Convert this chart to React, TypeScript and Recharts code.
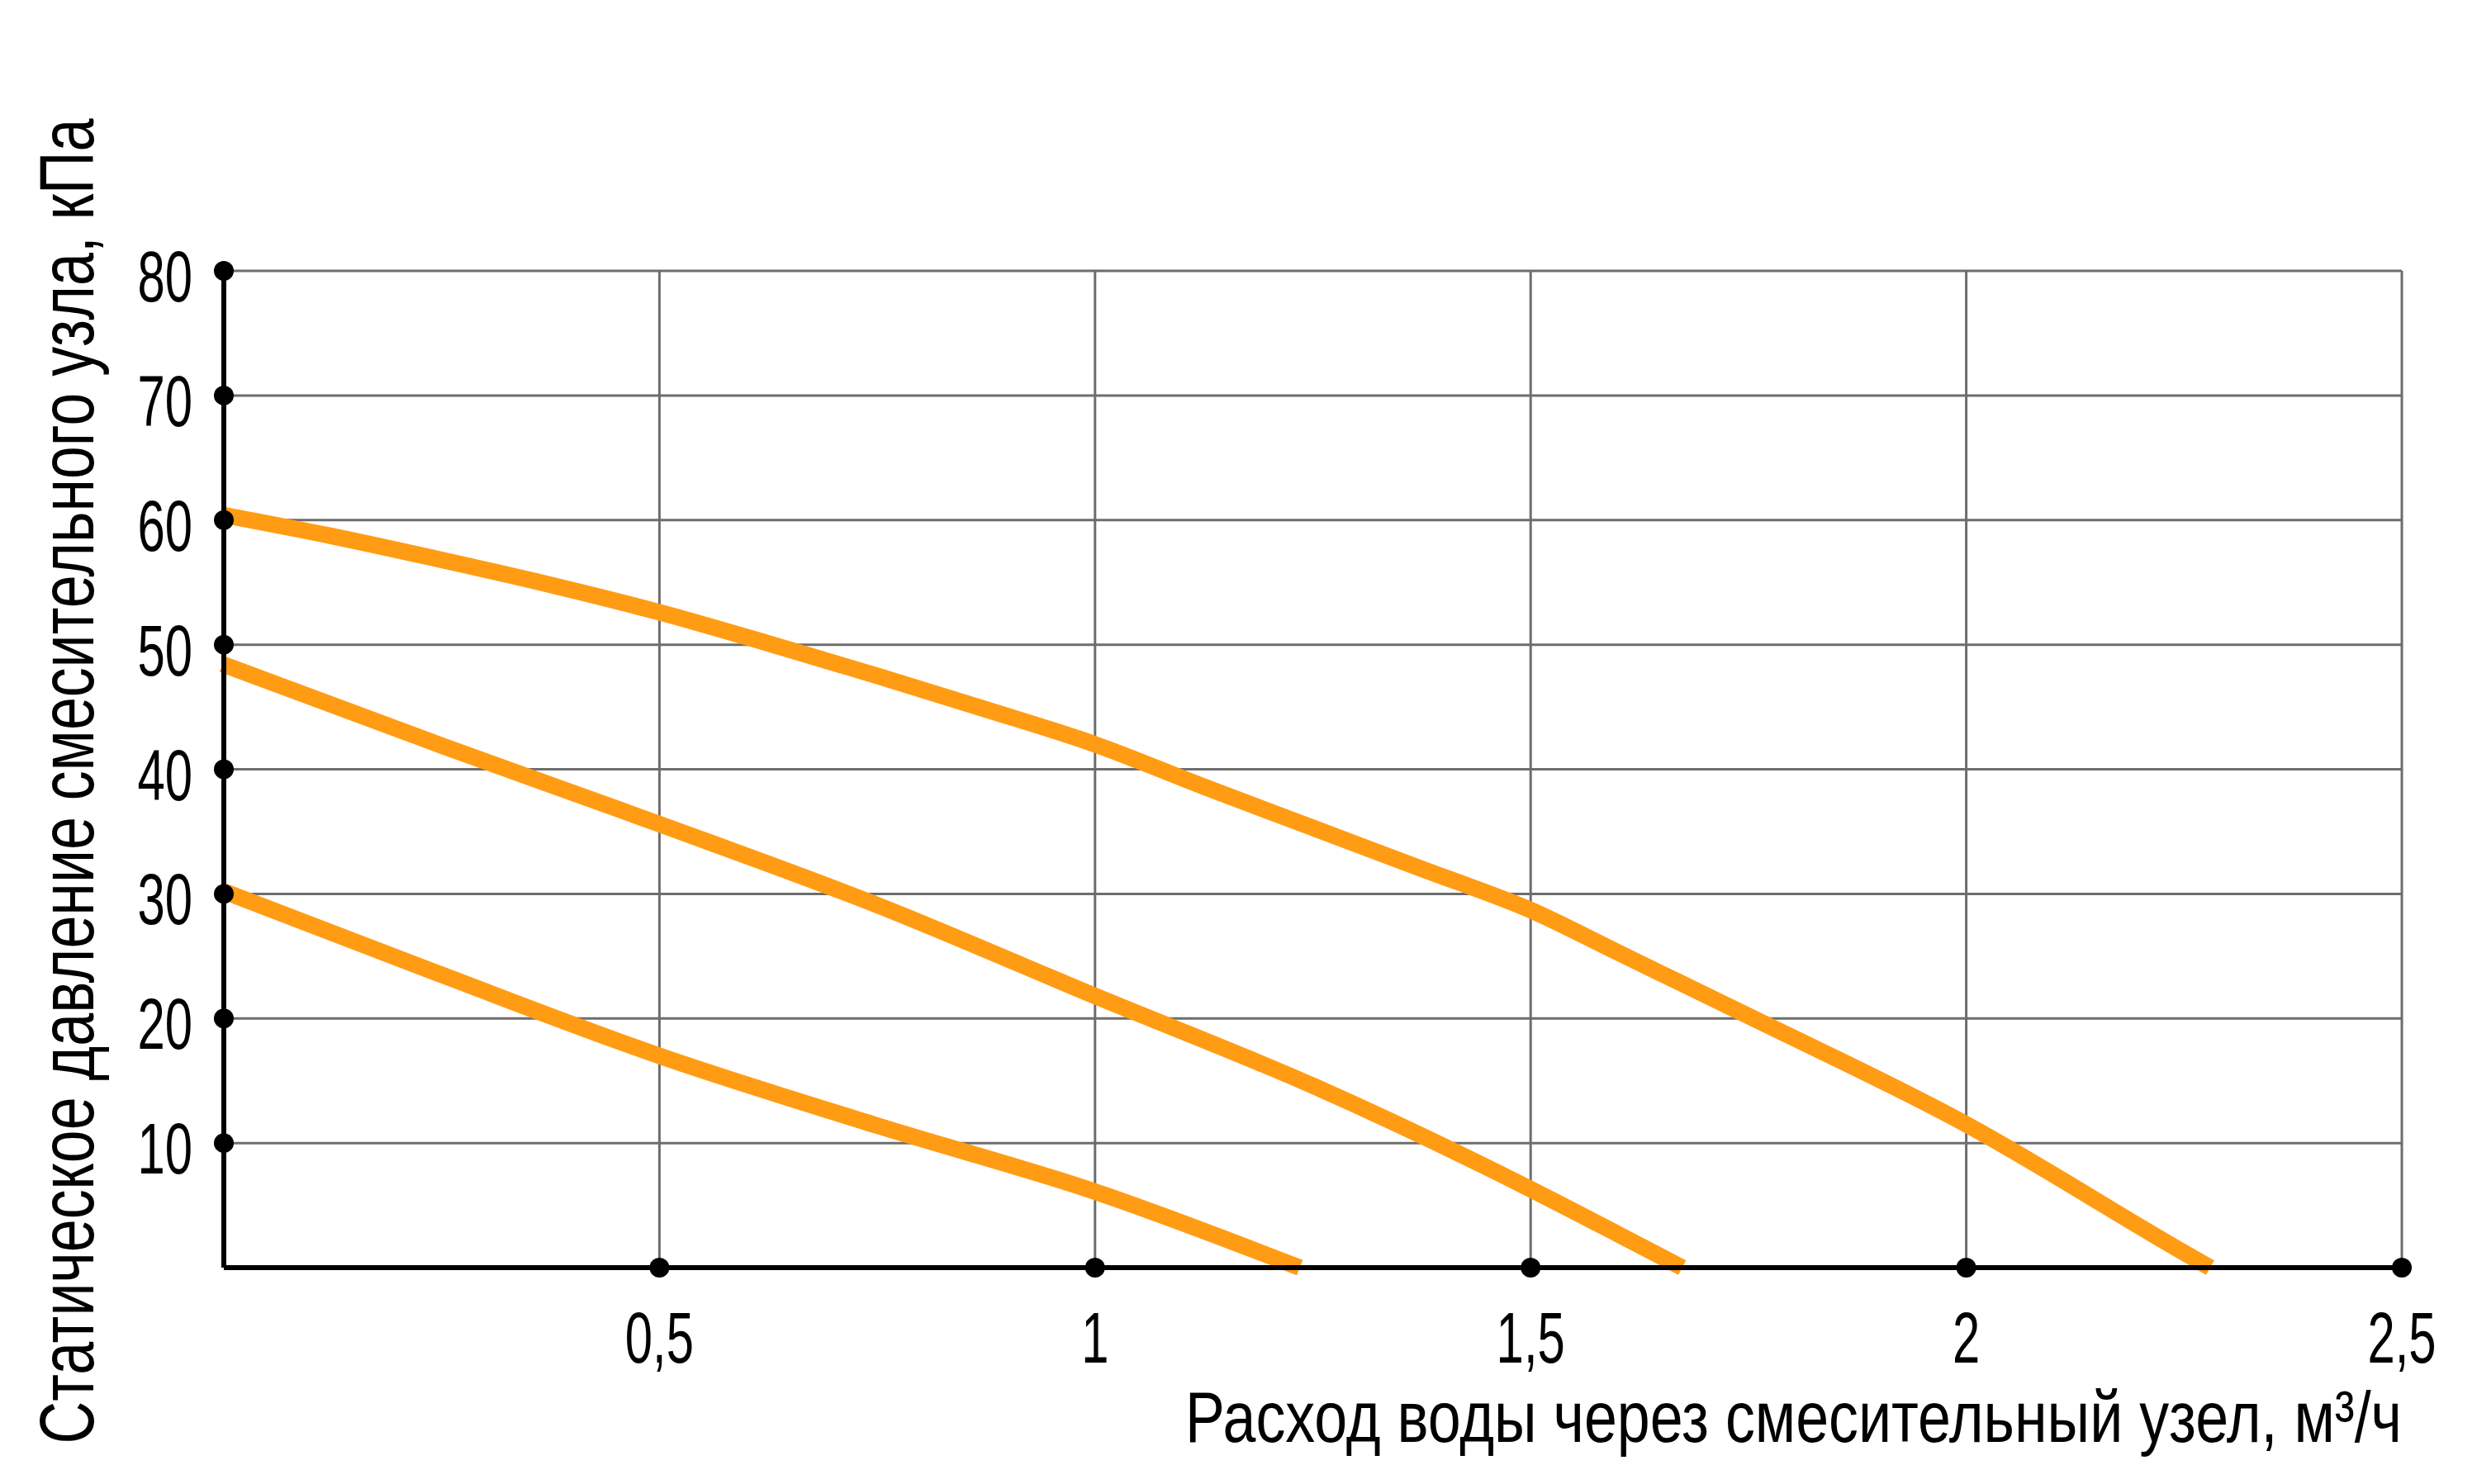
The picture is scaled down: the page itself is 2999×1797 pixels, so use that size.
import React from "react";
import { LineChart, Line, XAxis, YAxis, CartesianGrid } from "recharts";

// Кривые: расход Q (м³/ч) -> статическое давление P (кПа)
const highQ = [0, 0.125, 0.25, 0.375, 0.5, 0.625, 0.75, 0.875, 1, 1.125, 1.25, 1.375, 1.5, 1.6, 1.75, 2, 2.25, 2.28];
const highP = [60.4, 58.7, 56.8, 54.8, 52.6, 50.1, 47.5, 44.8, 42.0, 38.6, 35.3, 32.0, 28.7, 25.3, 20.2, 11.5, 1.2, 0];

const midQ = [0, 0.25, 0.5, 0.75, 1, 1.25, 1.5, 1.6, 1.674];
const midP = [48.4, 41.9, 35.6, 29.1, 21.8, 14.6, 6.3, 2.7, 0];

const lowQ = [0, 0.25, 0.5, 0.75, 1, 1.235];
const lowP = [30.2, 23.5, 17.0, 11.4, 6.1, 0];

const xTicks = [0.5, 1, 1.5, 2, 2.5];
const yTicks = [10, 20, 30, 40, 50, 60, 70, 80];

const xTitle = "Расход воды через смесительный узел, м³/ч";
const yTitle = "Статическое давление смесительного узла, кПа";

const toRows = (q: number[], p: number[]) => q.map((x, i) => ({ q: x, p: p[i] }));

const SANS = '"Liberation Sans", Arial, sans-serif';
const ORANGE = "#FF9C14";
const GRID = "#6d6d6d";

const fmt = (v: number) => String(v).replace(".", ",");

// узкие цифры: обычный гротеск, сжатый по горизонтали
function Narrow({ x, y, anchor, children }: any) {
  return (
    <text
      transform={`translate(${x} ${y}) scale(0.68 1)`}
      textAnchor={anchor}
      fontFamily={SANS}
      fontSize={88}
      fill="#000"
    >
      {children}
    </text>
  );
}

function YTick({ x, y, payload }: any) {
  return (
    <g>
      <circle cx={x} cy={y} r={12} fill="#000" />
      <Narrow x={x - 38} y={y + 37} anchor="end">
        {fmt(payload.value)}
      </Narrow>
    </g>
  );
}

function XTick({ x, y, payload }: any) {
  return (
    <g>
      <circle cx={x} cy={y} r={12} fill="#000" />
      <Narrow x={x} y={y + 115} anchor="middle">
        {fmt(payload.value)}
      </Narrow>
    </g>
  );
}

export default function App() {
  const series = [toRows(highQ, highP), toRows(midQ, midP), toRows(lowQ, lowP)];
  return (
    <div style={{ position: "absolute", left: 0, top: 0, background: "#fff" }}>
      <LineChart width={2999} height={1797} margin={{ top: 328, right: 91, bottom: 112, left: 71 }}>
        <CartesianGrid stroke={GRID} strokeWidth={3} />
        <XAxis
          type="number"
          dataKey="q"
          domain={[0, 2.5]}
          ticks={xTicks}
          height={150}
          tickSize={0}
          tickMargin={0}
          axisLine={{ stroke: "#000", strokeWidth: 6 }}
          tick={<XTick />}
          allowDuplicatedCategory={false}
          label={{
            content: () => (
              <text
                x={2908}
                y={1746}
                textAnchor="end"
                fontFamily={SANS}
                fontSize={88}
                textLength={1473}
                lengthAdjust="spacingAndGlyphs"
                fill="#000"
              >
                {xTitle}
              </text>
            ),
          }}
        />
        <YAxis
          type="number"
          dataKey="p"
          domain={[0, 80]}
          ticks={yTicks}
          width={200}
          tickSize={0}
          tickMargin={0}
          axisLine={{ stroke: "#000", strokeWidth: 6 }}
          tick={<YTick />}
          label={{
            content: () => (
              <text
                x={113}
                y={946}
                transform="rotate(-90 113 946)"
                textAnchor="middle"
                fontFamily={SANS}
                fontSize={92}
                textLength={1605}
                lengthAdjust="spacingAndGlyphs"
                fill="#000"
              >
                {yTitle}
              </text>
            ),
          }}
        />
        {series.map((d, i) => (
          <Line
            key={i}
            data={d}
            dataKey="p"
            type="monotone"
            stroke={ORANGE}
            strokeWidth={20}
            dot={false}
            activeDot={false}
            isAnimationActive={false}
          />
        ))}
      </LineChart>
    </div>
  );
}
